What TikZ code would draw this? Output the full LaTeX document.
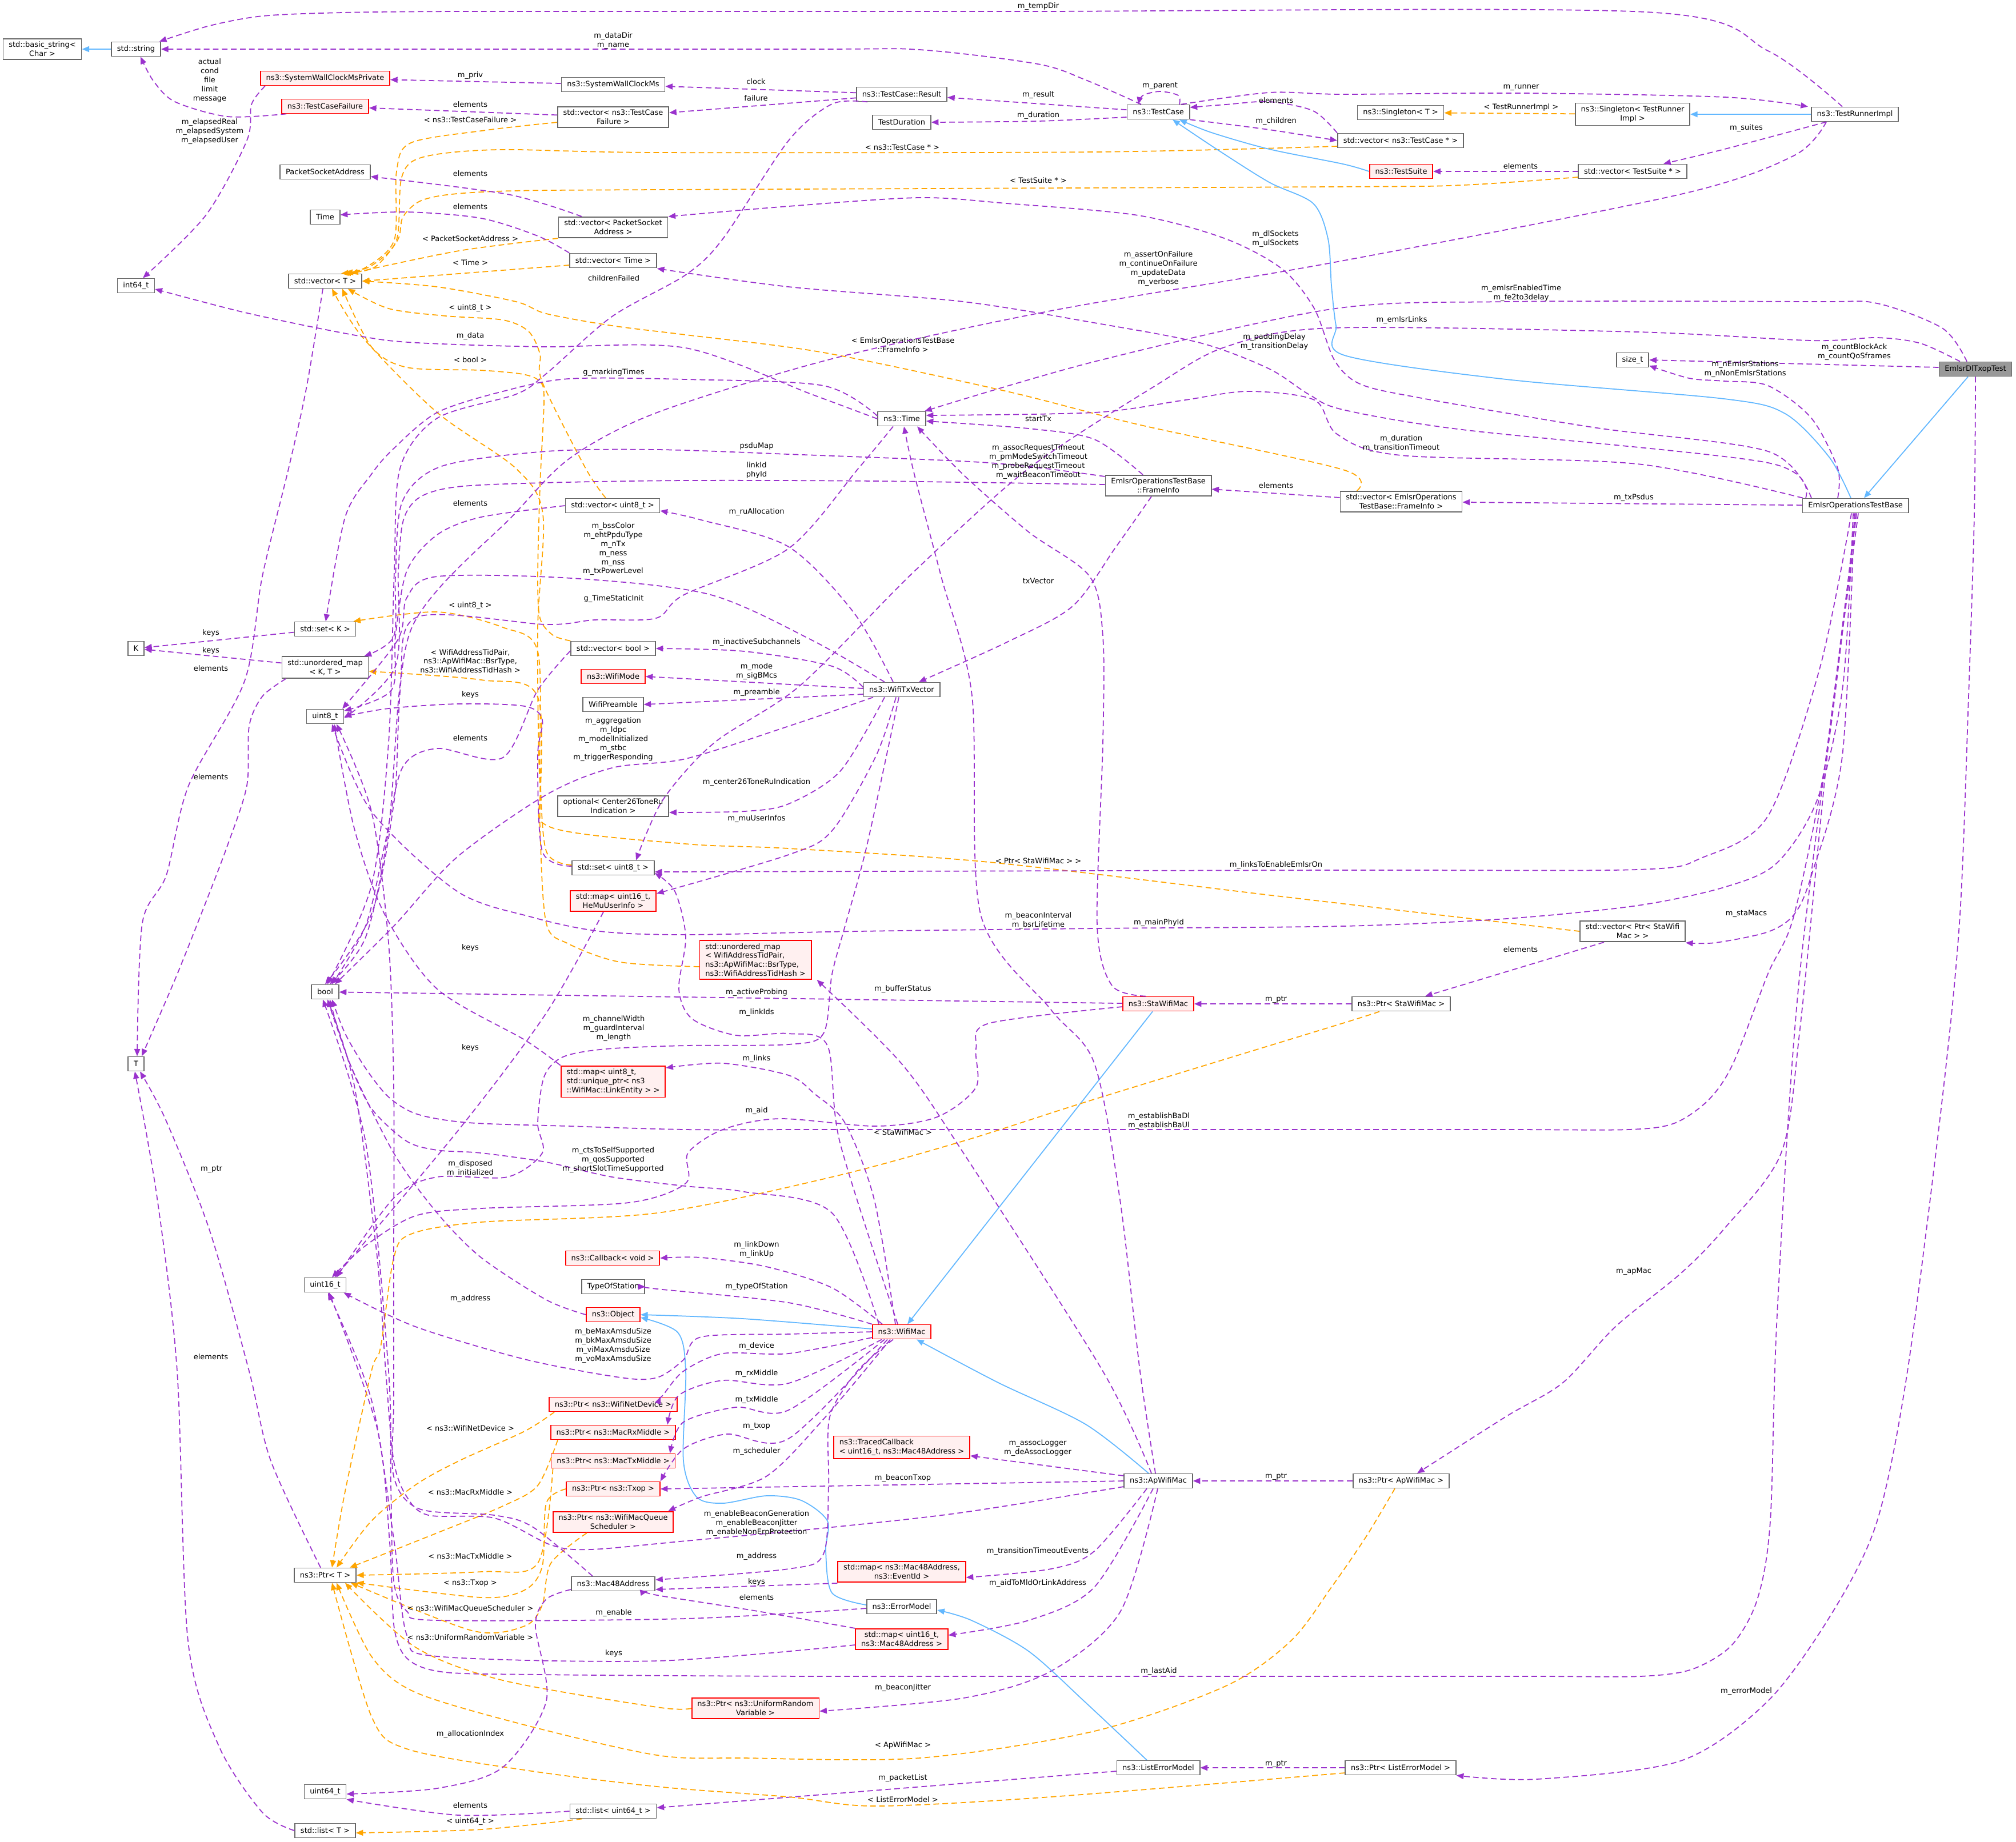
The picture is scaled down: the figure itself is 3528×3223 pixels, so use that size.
\documentclass[tikz,border=0pt]{standalone}
\usepackage{fontspec}
\setmainfont{DejaVu Sans}
\usetikzlibrary{arrows.meta}
\definecolor{dorchid}{RGB}{154,50,205}
\definecolor{dorange}{RGB}{255,165,0}
\definecolor{sblue}{RGB}{99,184,255}
\definecolor{hotfill}{RGB}{255,240,240}
\definecolor{curfill}{RGB}{153,153,153}
\definecolor{bordergray}{RGB}{102,102,102}
\newcommand{\dgfont}{\fontsize{3.7pt}{4.5pt}\selectfont}
\tikzset{
  cls/.style={draw=bordergray, fill=white, line width=0.5pt, font=\dgfont, align=center,
    inner xsep=2.8pt, inner ysep=1.5pt, minimum height=0.25cm},
  hot/.style={cls, draw=red, fill=hotfill},
  cur/.style={cls, fill=curfill},
  lbl/.style={font=\dgfont, align=center, inner sep=0pt, text=black},
  mem/.style={draw=dorchid, line width=0.5pt, dash pattern=on 2.8pt off 1.7pt,
    -{Triangle[length=3.6pt,width=2.9pt]}},
  tpl/.style={mem, draw=dorange},
  inh/.style={draw=sblue, line width=0.5pt, -{Triangle[length=3.6pt,width=2.9pt]}}
}
\begin{document}
\catcode`\_=12
\begin{tikzpicture}[x=0.01cm, y=-0.01cm]
\fill[white] (0,0) rectangle (3528,3223);
\useasboundingbox (0,0) rectangle (3528,3223);

\node[cls] (basicstr) at (74,86) {std::basic_string<\\Char >};
\node[cls] (stdstring) at (238,86) {std::string};
\node[hot] (wallpriv) at (569,137) {ns3::SystemWallClockMsPrivate};
\node[hot] (tcfail) at (569,186) {ns3::TestCaseFailure};
\node[cls] (wallms) at (1073,148) {ns3::SystemWallClockMs};
\node[cls] (vectcfail) at (1073,205) {std::vector< ns3::TestCase\\Failure >};
\node[cls] (psaddr) at (569,301) {PacketSocketAddress};
\node[cls] (timeplain) at (569,380) {Time};
\node[cls] (vecpsa) at (1073,398) {std::vector< PacketSocket\\Address >};
\node[cls] (vectime) at (1073,456) {std::vector< Time >};
\node[cls] (int64) at (238,500) {int64_t};
\node[cls] (vecT) at (569,492) {std::vector< T >};
\node[cls] (result) at (1578,165) {ns3::TestCase::Result};
\node[cls] (testdur) at (1578,214) {TestDuration};
\node[cls] (testcase) at (2027,196) {ns3::TestCase};
\node[cls] (singT) at (2451,197) {ns3::Singleton< T >};
\node[cls] (singTRI) at (2857,200) {ns3::Singleton< TestRunner\\Impl >};
\node[cls] (runner) at (3246,200) {ns3::TestRunnerImpl};
\node[cls] (vectcp) at (2451,246) {std::vector< ns3::TestCase * >};
\node[hot] (suite) at (2452,300) {ns3::TestSuite};
\node[cls] (vecsuite) at (2857,300) {std::vector< TestSuite * >};
\node[cls] (sizet) at (2857,630) {size_t};
\node[cur] (dltxop) at (3457,646) {EmlsrDlTxopTest};
\node[cls] (nstime) at (1578,733) {ns3::Time};
\node[cls] (vecu8) at (1072,885) {std::vector< uint8_t >};
\node[cls] (setK) at (569,1101) {std::set< K >};
\node[cls] (nK) at (238,1135) {K};
\node[cls] (umapKT) at (569,1168) {std::unordered_map\\< K, T >};
\node[cls] (vecbool) at (1073,1135) {std::vector< bool >};
\node[hot] (wifimode) at (1073,1184) {ns3::WifiMode};
\node[cls] (preamble) at (1073,1233) {WifiPreamble};
\node[cls] (uint8) at (569,1254) {uint8_t};
\node[cls] (optional) at (1073,1411) {optional< Center26ToneRu\\Indication >};
\node[cls] (setu8) at (1073,1519) {std::set< uint8_t >};
\node[hot] (mapmu) at (1073,1577) {std::map< uint16_t,\\HeMuUserInfo >};
\node[cls] (frameinfo) at (2027,850) {EmlsrOperationsTestBase\\::FrameInfo};
\node[cls] (txvector) at (1578,1207) {ns3::WifiTxVector};
\node[cls] (vecframe) at (2452,878) {std::vector< EmlsrOperations\\TestBase::FrameInfo >};
\node[cls] (optbase) at (3247,885) {EmlsrOperationsTestBase};
\node[cls] (nbool) at (569,1736) {bool};
\node[cls] (nT) at (238,1862) {T};
\node[hot, align=left] (maplink) at (1073,1893) {std::map< uint8_t,\\ std::unique_ptr< ns3\\::WifiMac::LinkEntity > >};
\node[hot] (callback) at (1072,2202) {ns3::Callback< void >};
\node[cls] (uint16) at (569,2249) {uint16_t};
\node[cls] (typesta) at (1073,2252) {TypeOfStation};
\node[hot] (object) at (1073,2301) {ns3::Object};
\node[hot, align=left] (umapbsr) at (1322,1680) {std::unordered_map\\< WifiAddressTidPair,\\ ns3::ApWifiMac::BsrType,\\ ns3::WifiAddressTidHash >};
\node[hot] (stamac) at (2027,1757) {ns3::StaWifiMac};
\node[hot] (wifimac) at (1578,2331) {ns3::WifiMac};
\node[cls] (vecstaptr) at (2857,1630) {std::vector< Ptr< StaWifi\\Mac > >};
\node[cls] (ptrsta) at (2452,1757) {ns3::Ptr< StaWifiMac >};
\node[hot] (ptrdev) at (1073,2458) {ns3::Ptr< ns3::WifiNetDevice >};
\node[hot] (ptrrx) at (1073,2507) {ns3::Ptr< ns3::MacRxMiddle >};
\node[hot] (ptrtx) at (1073,2557) {ns3::Ptr< ns3::MacTxMiddle >};
\node[hot] (ptrtxop) at (1073,2606) {ns3::Ptr< ns3::Txop >};
\node[hot] (ptrsched) at (1073,2664) {ns3::Ptr< ns3::WifiMacQueue\\Scheduler >};
\node[cls] (ptrT) at (569,2757) {ns3::Ptr< T >};
\node[cls] (mac48) at (1073,2772) {ns3::Mac48Address};
\node[cls] (uint64) at (569,3136) {uint64_t};
\node[cls] (listu64) at (1073,3170) {std::list< uint64_t >};
\node[cls] (listT) at (569,3204) {std::list< T >};
\node[hot, align=left] (traced) at (1578,2533) {ns3::TracedCallback\\< uint16_t, ns3::Mac48Address >};
\node[cls] (apmac) at (2027,2592) {ns3::ApWifiMac};
\node[hot] (mapevent) at (1578,2751) {std::map< ns3::Mac48Address,\\ns3::EventId >};
\node[cls] (errmodel) at (1578,2812) {ns3::ErrorModel};
\node[hot] (mapaid) at (1578,2869) {std::map< uint16_t,\\ns3::Mac48Address >};
\node[hot] (ptrrand) at (1322,2990) {ns3::Ptr< ns3::UniformRandom\\Variable >};
\node[cls] (listerr) at (2027,3094) {ns3::ListErrorModel};
\node[cls] (ptrap) at (2452,2592) {ns3::Ptr< ApWifiMac >};
\node[cls] (ptrlisterr) at (2451,3094) {ns3::Ptr< ListErrorModel >};

\draw[inh] (stdstring) -- (basicstr);
\draw[mem] plot[smooth] coordinates {([xshift=-0.22cm]runner.north) (3094,89) (2880,21) (1800,20) (1200,20) (800,20) (600,22) (460,28) (367,45) ([xshift=-0.03cm]stdstring.north east)} node[lbl] at (1817,11) {m_tempDir};
\draw[mem] plot[smooth] coordinates {([xshift=-0.3cm]testcase.north) (1900,140) (1816,112) (1609,87) (1400,86) (stdstring.east)} node[lbl] at (1073,71) {m_dataDir\\m_name};
\draw[mem] plot[smooth] coordinates {([xshift=0.09cm]tcfail.south west) (398,204) (306,178) (268,141) ([xshift=0.08cm]stdstring.south)} node[lbl] at (367,141) {actual\\cond\\file\\limit\\message};
\draw[mem] plot[smooth] coordinates {([xshift=0.09cm]wallpriv.south west) (440,183) (432,246) (360,377) ([xshift=0.12cm]int64.north)} node[lbl] at (367,230) {m_elapsedReal\\m_elapsedSystem\\m_elapsedUser};
\draw[mem] (wallms) -- (wallpriv) node[lbl] at (823,132) {m_priv};
\draw[mem] (result) -- (wallms) node[lbl] at (1323,143) {clock};
\draw[mem] (result) -- (vectcfail) node[lbl] at (1323,172) {failure};
\draw[mem] (vectcfail) -- (tcfail) node[lbl] at (823,183) {elements};
\draw[tpl] plot[smooth] coordinates {([yshift=-0.09cm]vectcfail.west) (850,228) (719,250) (694,300) (690,420) (640,468) ([xshift=0.28cm]vecT.north)} node[lbl] at (823,210) {< ns3::TestCaseFailure >};
\draw[tpl] plot[smooth] coordinates {([yshift=-0.1cm]vectcp.west) (1915,266) (1150,267) (872,262) (740,275) (703,310) (694,420) (650,465) ([xshift=0.36cm]vecT.north)} node[lbl] at (1579,258) {< ns3::TestCase * >};
\draw[tpl] plot[smooth] coordinates {([yshift=-0.1cm]vecsuite.west) (2559,324) (2330,327) (1150,332) (900,334) (790,340) (735,352) (705,380) (696,420) (655,468) ([xshift=0.32cm]vecT.north)} node[lbl] at (1817,316) {< TestSuite * >};
\draw[mem] plot[smooth] coordinates {([xshift=-0.55cm]vecpsa.north) (888,340) ([yshift=-0.08cm]psaddr.east)} node[lbl] at (823,304) {elements};
\draw[tpl] plot[smooth] coordinates {(vecpsa.south west) (803,439) ([xshift=-0.2cm]vecT.north east)} node[lbl] at (823,418) {< PacketSocketAddress >};
\draw[mem] plot[smooth] coordinates {(vectime.north west) (941,413) (842,382) (712,371) ([yshift=0.04cm]timeplain.east)} node[lbl] at (823,362) {elements};
\draw[tpl] ([yshift=-0.08cm]vectime.west) -- (vecT.east) node[lbl] at (823,460) {< Time >};
\draw[tpl] plot[smooth] coordinates {([xshift=-0.12cm]vecu8.north) (1025,820) (949,669) (945,620) (925,580) (880,560) (780,553) (680,540) ([xshift=-0.25cm]vecT.south east)} node[lbl] at (823,539) {< uint8_t >};
\draw[tpl] plot[smooth] coordinates {(vecbool.north west) (968,1112) (945,1082) (941,1009) (945,850) (952,700) (945,668) (915,655) (840,648) (712,643) (650,607) ([xshift=0.3cm]vecT.south)} node[lbl] at (823,630) {< bool >};
\draw[tpl] plot[smooth] coordinates {([xshift=0.3cm]vecframe.north west) (2350,822) (1992,743) (1762,685) (1441,617) (1200,586) (1071,570) (956,549) (903,528) (765,502) (vecT.east)} node[lbl] at (1580,604) {< EmlsrOperationsTestBase\\::FrameInfo >};
\draw[tpl] plot[smooth] coordinates {(vecstaptr.west) (2250,1570) (1731,1509) (1380,1485) (1200,1477) (964,1448) (945,1375) (941,1100) (950,900) (903,820) (765,722) (635,591) ([xshift=0.12cm]vecT.south)} node[lbl] at (1817,1507) {< Ptr< StaWifiMac > >};
\draw[mem] plot[smooth] coordinates {([xshift=-0.04cm]vecT.south) (536,680) (505,820) (459,1009) (428,1192) (330,1375) (291,1532) (249,1616) ([xshift=0.02cm]nT.north)} node[lbl] at (369,1170) {elements};
\draw[mem] (setK) -- (nK) node[lbl] at (369,1108) {keys};
\draw[mem] (umapKT) -- (nK) node[lbl] at (369,1139) {keys};
\draw[mem] plot[smooth] coordinates {([xshift=0.08cm]umapKT.south west) (459,1219) (436,1271) (432,1375) (398,1480) (352,1600) (306,1715) ([xshift=0.1cm]nT.north)} node[lbl] at (369,1360) {elements};
\draw[mem] plot[smooth] coordinates {([xshift=-0.08cm]ptrT.north) (474,2557) (436,2400) (367,2154) (290,1960) ([xshift=0.07cm]nT.south)} node[lbl] at (370,2046) {m_ptr};
\draw[mem] plot[smooth] coordinates {(listT.west) (459,3172) (383,3056) (329,2872) (310,2400) (275,2097) ([xshift=-0.02cm]nT.south)} node[lbl] at (369,2375) {elements};
\draw[tpl] plot[smooth] coordinates {([yshift=0.05cm]setu8.west) (956,1490) (945,1350) (941,1140) (880,1098) (765,1071) ([xshift=-0.05cm]setK.north east)} node[lbl] at (823,1060) {< uint8_t >};
\draw[tpl] plot[smooth] coordinates {([yshift=-0.12cm]umapbsr.west) (1086,1684) (995,1652) (956,1616) (945,1450) (941,1220) (842,1190) ([yshift=-0.07cm]umapKT.east)} node[lbl] at (823,1157) {< WifiAddressTidPair,\\ns3::ApWifiMac::BsrType,\\ns3::WifiAddressTidHash >};
\draw[mem] plot[smooth] coordinates {(vecu8.west) (842,905) (765,936) (712,999) (692,1114) (685,1208) ([yshift=0.1cm]uint8.east)} node[lbl] at (823,881) {elements};
\draw[mem] plot[smooth] coordinates {([yshift=0.03cm]setu8.west) (949,1490) (941,1323) (949,1260) (918,1236) (803,1232) (680,1240) (uint8.east)} node[lbl] at (823,1216) {keys};
\draw[mem] plot[smooth] coordinates {([yshift=-0.04cm]vecbool.west) (941,1208) (880,1326) (765,1310) (704,1344) (673,1480) (640,1620) ([xshift=0.12cm]nbool.north)} node[lbl] at (823,1292) {elements};
\draw[mem] plot[smooth] coordinates {(maplink.north west) (918,1820) (765,1731) (673,1600) (620,1450) ([xshift=0.16cm]uint8.south)} node[lbl] at (823,1659) {keys};
\draw[mem] plot[smooth] coordinates {([xshift=-0.17cm]mapmu.south) (956,1773) (803,1977) ([xshift=0.17cm]uint16.north)} node[lbl] at (823,1834) {keys};
\draw[mem] plot[smooth] coordinates {(nstime.west) (1420,690) (1200,609) (956,607) (800,603) (680,596) (560,575) (420,545) ([yshift=-0.06cm]int64.east)} node[lbl] at (823,588) {m_data};
\draw[mem] plot[smooth] coordinates {([yshift=0.05cm]nstime.west) (1441,675) (1200,664) (995,663) (880,685) (765,722) (689,785) (650,830) (604,905) ([xshift=0.01cm]setK.north)} node[lbl] at (1074,652) {g_markingTimes};
\draw[mem] plot[smooth] coordinates {([xshift=-0.15cm]nstime.south) (1502,820) (1380,960) (1197,1041) (1148,1082) (1040,1085) (956,1093) (730,1080) (700,1200) (680,1450) (640,1640) ([xshift=0.08cm]nbool.north)} node[lbl] at (1074,1048) {g_TimeStaticInit};
\draw[mem] plot[smooth] coordinates {([xshift=-0.6cm]result.south) (1456,182) (1380,246) (1265,418) (1200,481) (1071,554) (956,654) (903,690) (765,732) (700,820) (690,1000) (680,1300) (650,1550) ([xshift=0.04cm]nbool.north)} node[lbl] at (1074,487) {childrenFailed};
\draw[mem] plot[smooth] coordinates {([xshift=-0.5cm]runner.south) (3140,272) (2941,340) (2330,460) (1839,544) (1456,628) (1150,722) (1000,800) (900,900) (720,1100) (690,1400) (650,1600) (nbool.north)} node[lbl] at (2027,470) {m_assertOnFailure\\m_continueOnFailure\\m_updateData\\m_verbose};
\draw[mem] plot[smooth] coordinates {([xshift=-0.15cm]dltxop.north) (3400,575) (3285,531) (3170,528) (2636,528) (2330,541) (1915,633) ([xshift=0.4cm]nstime.north)} node[lbl] at (2662,513) {m_emlsrEnabledTime\\m_fe2to3delay};
\draw[mem] plot[smooth] coordinates {([xshift=-0.27cm]dltxop.north) (3361,601) (3285,591) (3170,596) (2865,581) (2330,574) (2145,607) (2022,675) (1800,820) (1600,1000) (1400,1200) (1250,1300) (1160,1400) ([xshift=0.4cm]setu8.north)} node[lbl] at (2453,560) {m_emlsrLinks};
\draw[mem] ([yshift=0.03cm]dltxop.west) -- (sizet.east) node[lbl] at (3245,616) {m_countBlockAck\\m_countQoSframes};
\draw[mem] plot[smooth] coordinates {(dltxop.south) (3455,900) (3445,1218) (3430,1600) (3400,1914) (3338,2400) (3285,2662) (3208,2820) (3094,2977) (2941,3082) (2689,3114) (ptrlisterr.south east)} node[lbl] at (3056,2960) {m_errorModel};
\draw[inh] ([xshift=-0.13cm]dltxop.south) -- ([xshift=0.15cm]optbase.north);
\draw[inh] plot[smooth] coordinates {([xshift=-0.08cm]optbase.north) (3201,800) (3124,724) (3017,698) (2636,664) (2353,622) (2338,570) (2330,500) (2324,418) (2298,356) (2221,319) (2129,261) ([xshift=0.25cm]testcase.south)};
\draw[inh] plot[smooth] coordinates {(suite.west) (2350,287) (2221,261) (2120,232) ([xshift=0.37cm]testcase.south)};
\draw[mem] plot[smooth] coordinates {([xshift=-0.31cm]optbase.north) (3216,820) (3170,732) (3094,675) (3017,667) (2956,662) ([yshift=-0.1cm]sizet.east)} node[lbl] at (3054,646) {m_nEmlsrStations\\m_nNonEmlsrStations};
\draw[mem] (optbase) -- (vecframe) node[lbl] at (2859,871) {m_txPsdus};
\draw[mem] plot[smooth] coordinates {([xshift=-0.77cm]optbase.north) (3094,790) (2788,748) (2483,696) (2380,672) (2335,630) (2300,540) (2244,471) (2145,418) (1992,377) (1762,356) (1609,346) (1380,361) ([yshift=0.19cm]vecpsa.east)} node[lbl] at (2232,418) {m_dlSockets\\m_ulSockets};
\draw[mem] plot[smooth] coordinates {([xshift=-0.87cm]optbase.north) (3094,810) (2559,752) (2350,717) (2290,690) (2220,645) (2100,600) (1915,565) (1686,528) (1380,502) ([yshift=-0.14cm]vectime.east)} node[lbl] at (2230,598) {m_paddingDelay\\m_transitionDelay};
\draw[mem] plot[smooth] coordinates {([xshift=-0.92cm]optbase.north) (2865,812) (2452,797) (2340,760) (2300,700) (2183,685) (2068,701) (1915,722) ([yshift=0.06cm]nstime.east)} node[lbl] at (2452,776) {m_duration\\m_transitionTimeout};
\draw[mem] plot[smooth] coordinates {([xshift=-0.04cm]optbase.south) (3225,1200) (3180,1400) (3109,1511) (3017,1553) (2865,1585) (2636,1608) (2350,1621) (1915,1625) (1500,1630) (1200,1636) (1050,1630) (930,1605) (800,1560) (650,1420) ([xshift=0.12cm]uint8.south)} node[lbl] at (2028,1615) {m_mainPhyId};
\draw[mem] plot[smooth] coordinates {([xshift=-0.07cm]optbase.south) (3185,1168) (3094,1428) (2979,1501) (2865,1522) (2330,1523) ([yshift=-0.07cm]setu8.east)} node[lbl] at (2233,1514) {m_linksToEnableEmlsrOn};
\draw[mem] plot[smooth] coordinates {([xshift=-0.02cm]optbase.south) (3224,1323) (3170,1532) (3140,1600) (3094,1631) (3002,1650) ([yshift=-0.2cm]vecstaptr.east)} node[lbl] at (3056,1599) {m_staMacs};
\draw[mem] plot[smooth] coordinates {(optbase.south) (3200,1300) (3140,1600) (3094,1704) (3033,1861) (2990,1925) (2930,1966) (2850,1977) (2650,1977) (2400,1977) (2150,1977) (1900,1977) (1650,1977) (1400,1977) (1200,1977) (995,1971) (820,1965) (730,1950) (680,1920) (640,1870) (604,1809) ([xshift=0.12cm]nbool.south)} node[lbl] at (2028,1962) {m_establishBaDl\\m_establishBaUl};
\draw[mem] plot[smooth] coordinates {([xshift=0.02cm]optbase.south) (3200,1300) (3150,1800) (3117,2018) (3017,2151) (2941,2229) (2827,2322) (2735,2420) (2636,2479) ([xshift=0.28cm]ptrap.north)} node[lbl] at (2859,2225) {m_apMac};
\draw[mem] plot[smooth] coordinates {([xshift=0.05cm]optbase.south) (3150,1700) (3110,2300) (3098,2662) (3075,2800) (3030,2880) (2960,2922) (2870,2934) (2700,2934) (2450,2934) (2200,2934) (1950,2934) (1700,2934) (1450,2934) (1200,2933) (950,2931) (780,2927) (715,2905) (690,2850) (682,2700) (660,2500) ([xshift=0.07cm]uint16.south)} node[lbl] at (2028,2925) {m_lastAid};
\draw[inh] (runner) -- (singTRI);
\draw[mem] plot[smooth] coordinates {([xshift=-0.5cm]runner.south) (3018,261) ([xshift=0.54cm]vecsuite.north)} node[lbl] at (3056,224) {m_suites};
\draw[mem] plot[smooth] coordinates {([xshift=0.4cm]testcase.north) (2221,162) (2350,165) (2662,163) (3018,170) ([xshift=-0.05cm]runner.north west)} node[lbl] at (2662,153) {m_runner};
\draw[tpl] (singTRI) -- (singT) node[lbl] at (2662,188) {< TestRunnerImpl >};
\draw[mem] plot[smooth] coordinates {([xshift=0.37cm]testcase.north) (2062,167) (2030,160) (2000,167) ([xshift=-0.35cm]testcase.north)} node[lbl] at (2030,150) {m_parent};
\draw[mem] (testcase) -- (result) node[lbl] at (1817,166) {m_result};
\draw[mem] plot[smooth] coordinates {([yshift=-0.09cm]testcase.west) (1817,212) (testdur.east)} node[lbl] at (1817,202) {m_duration};
\draw[mem] plot[smooth] coordinates {(testcase.south east) (2221,227) (vectcp.west)} node[lbl] at (2233,212) {m_children};
\draw[mem] plot[smooth] coordinates {(vectcp.north west) (2298,194) (2221,178) (2145,183) ([yshift=0.08cm]testcase.east)} node[lbl] at (2233,176) {elements};
\draw[mem] (vecsuite) -- (suite) node[lbl] at (2661,291) {elements};
\draw[mem] (vecframe) -- (frameinfo) node[lbl] at (2233,850) {elements};
\draw[mem] plot[smooth] coordinates {([xshift=-0.27cm]frameinfo.north) (1915,769) (1800,750) ([yshift=-0.04cm]nstime.east)} node[lbl] at (1817,733) {startTx};
\draw[mem] plot[smooth] coordinates {([xshift=-0.12cm]frameinfo.south) (1953,957) (1877,1061) (1762,1124) ([xshift=0.3cm]txvector.north)} node[lbl] at (1817,1017) {txVector};
\draw[mem] plot[smooth] coordinates {([yshift=0.02cm]frameinfo.west) (1533,842) (1200,841) (950,845) (800,852) (735,870) (706,910) (697,1000) (692,1166) ([yshift=-0.03cm]uint8.east)} node[lbl] at (1324,823) {linkId\\phyId};
\draw[mem] plot[smooth] coordinates {([yshift=0.16cm]frameinfo.west) (1731,810) (1380,795) (1150,787) (956,790) (773,816) (704,878) (692,1009) (689,1114) ([xshift=-0.08cm]umapKT.north east)} node[lbl] at (1324,781) {psduMap};
\draw[mem] plot[smooth] coordinates {([xshift=-0.15cm]txvector.north) (1494,1072) (1380,957) (1227,910) ([yshift=-0.09cm]vecu8.east)} node[lbl] at (1324,896) {m_ruAllocation};
\draw[mem] plot[smooth] coordinates {([xshift=-0.3cm]txvector.north) (1420,1120) (1240,1040) (1000,1012) (765,1009) (712,1046) (696,1120) ([xshift=0.3cm]uint8.north)} node[lbl] at (1073,961) {m_bssColor\\m_ehtPpduType\\m_nTx\\m_ness\\m_nss\\m_txPowerLevel};
\draw[mem] plot[smooth] coordinates {([yshift=0.04cm]txvector.west) (1456,1166) (1303,1140) (vecbool.east)} node[lbl] at (1324,1124) {m_inactiveSubchannels};
\draw[mem] ([yshift=0.02cm]txvector.west) -- (wifimode.east) node[lbl] at (1324,1175) {m_mode\\m_sigBMcs};
\draw[mem] ([yshift=-0.08cm]txvector.west) -- (preamble.east) node[lbl] at (1324,1212) {m_preamble};
\draw[mem] plot[smooth] coordinates {([xshift=-0.5cm]txvector.south) (1380,1271) (1200,1328) (1071,1344) (956,1391) (800,1500) (690,1620) ([xshift=0.17cm]nbool.north)} node[lbl] at (1073,1294) {m_aggregation\\m_ldpc\\m_modelInitialized\\m_stbc\\m_triggerResponding};
\draw[mem] plot[smooth] coordinates {([xshift=-0.3cm]txvector.south) (1471,1349) (1380,1407) (1303,1420) ([yshift=-0.11cm]optional.east)} node[lbl] at (1324,1369) {m_center26ToneRuIndication};
\draw[mem] plot[smooth] coordinates {([xshift=-0.1cm]txvector.south) (1533,1323) (1456,1454) (1380,1496) ([yshift=0.13cm]mapmu.east)} node[lbl] at (1324,1433) {m_muUserInfos};
\draw[mem] plot[smooth] coordinates {([xshift=-0.05cm]txvector.south) (1517,1480) (1479,1620) (1456,1705) (1441,1809) (1380,1828) (1200,1830) (1060,1836) (985,1850) (952,1885) (941,1966) (949,2018) (888,2060) (765,2060) (689,2097) ([xshift=0.2cm]uint16.north)} node[lbl] at (1074,1800) {m_channelWidth\\m_guardInterval\\m_length};
\draw[inh] ([xshift=-0.1cm]stamac.south) -- ([xshift=0.1cm]wifimac.north);
\draw[mem] plot[smooth] coordinates {([xshift=-0.22cm]stamac.north) (1946,1725) (1920,1620) (1930,1300) (1930,1114) (1907,1009) (1800,931) (1686,831) ([xshift=0.27cm]nstime.south)} node[lbl] at (1817,808) {m_assocRequestTimeout\\m_pmModeSwitchTimeout\\m_probeRequestTimeout\\m_waitBeaconTimeout};
\draw[mem] (stamac) -- (nbool) node[lbl] at (1324,1737) {m_activeProbing};
\draw[mem] plot[smooth] coordinates {([yshift=-0.05cm]stamac.west) (1731,1791) (1708,1835) (1708,1903) (1640,1955) (1533,1971) (1364,1958) (1265,1977) (1204,2018) (1200,2071) (1100,2105) (842,2115) (727,2128) (640,2180) ([xshift=0.12cm]uint16.north)} node[lbl] at (1324,1944) {m_aid};
\draw[mem] (ptrsta) -- (stamac) node[lbl] at (2233,1749) {m_ptr};
\draw[tpl] plot[smooth] coordinates {([xshift=-0.38cm]ptrsta.south) (2343,1793) (1915,1924) (1686,1997) (1456,2060) (1150,2123) (842,2139) (719,2160) (689,2202) (666,2358) (650,2400) (604,2610) ([xshift=0.12cm]ptrT.north)} node[lbl] at (1580,1982) {< StaWifiMac >};
\draw[mem] ([xshift=-0.5cm]vecstaptr.south) -- ([xshift=0.42cm]ptrsta.north) node[lbl] at (2661,1662) {elements};
\draw[inh] plot[smooth] coordinates {([yshift=0.05cm]wifimac.west) (1300,2308) (object.east)};
\draw[inh] plot[smooth] coordinates {([yshift=0.03cm]errmodel.west) (1456,2788) (1445,2715) (1448,2662) (1402,2626) (1341,2618) (1265,2631) (1219,2620) (1196,2557) (1200,2400) (1186,2332) ([yshift=-0.05cm]object.east)};
\draw[mem] plot[smooth] coordinates {([xshift=-0.11cm]wifimac.north) (1530,2100) (1479,1966) (1425,1914) (1380,1882) (1265,1861) ([yshift=0.24cm]maplink.east)} node[lbl] at (1324,1853) {m_links};
\draw[mem] plot[smooth] coordinates {([xshift=-0.07cm]wifimac.north) (1470,2000) (1448,1830) (1380,1809) (1288,1812) (1211,1783) (1188,1731) (1200,1640) (1181,1560) ([yshift=-0.09cm]setu8.east)} node[lbl] at (1324,1772) {m_linkIds};
\draw[mem] plot[smooth] coordinates {([xshift=-0.34cm]wifimac.north) (1456,2254) (1341,2217) (1227,2201) (callback.east)} node[lbl] at (1324,2187) {m_linkDown\\m_linkUp};
\draw[mem] plot[smooth] coordinates {(wifimac.north west) (1380,2280) (1150,2256) (typesta.east)} node[lbl] at (1324,2252) {m_typeOfStation};
\draw[mem] plot[smooth] coordinates {(wifimac.west) (1380,2335) (1227,2340) (1196,2380) (1150,2411) (1086,2411) (918,2379) (727,2322) ([xshift=-0.05cm]uint16.south east)} node[lbl] at (1073,2355) {m_beMaxAmsduSize\\m_bkMaxAmsduSize\\m_viMaxAmsduSize\\m_voMaxAmsduSize};
\draw[mem] plot[smooth] coordinates {([yshift=-0.1cm]wifimac.west) (1380,2369) (1265,2369) (1196,2400) (1160,2442) ([xshift=-0.3cm]ptrdev.north east)} node[lbl] at (1324,2356) {m_device};
\draw[mem] plot[smooth] coordinates {([xshift=-0.35cm]wifimac.south) (1380,2421) (1265,2416) (1188,2442) ([xshift=-0.15cm]ptrrx.north east)} node[lbl] at (1324,2404) {m_rxMiddle};
\draw[mem] plot[smooth] coordinates {([xshift=-0.3cm]wifimac.south) (1380,2468) (1288,2463) (1196,2489) ([xshift=-0.1cm]ptrtx.north east)} node[lbl] at (1324,2450) {m_txMiddle};
\draw[mem] plot[smooth] coordinates {([xshift=-0.25cm]wifimac.south) (1380,2518) (1272,2510) (1196,2536) (ptrtxop.north east)} node[lbl] at (1324,2496) {m_txop};
\draw[mem] plot[smooth] coordinates {([xshift=-0.2cm]wifimac.south) (1441,2484) (1341,2584) (1227,2620) ([xshift=-0.1cm]ptrsched.north east)} node[lbl] at (1324,2540) {m_scheduler};
\draw[mem] plot[smooth] coordinates {([xshift=-0.15cm]wifimac.south) (1500,2400) (1452,2480) (1450,2600) (1441,2720) (1380,2746) ([yshift=0.07cm]mac48.east)} node[lbl] at (1324,2724) {m_address};
\draw[mem] plot[smooth] coordinates {([xshift=-0.4cm]wifimac.north) (1456,2123) (1303,2086) (1200,2076) (1071,2060) (956,2034) (842,2018) (765,2013) (711,1997) (650,1940) (612,1861) ([xshift=0.04cm]nbool.south)} node[lbl] at (1073,2030) {m_ctsToSelfSupported\\m_qosSupported\\m_shortSlotTimeSupported};
\draw[inh] plot[smooth] coordinates {([xshift=-0.17cm]apmac.north) (1900,2493) (1747,2420) ([xshift=0.26cm]wifimac.south)};
\draw[mem] ([yshift=0.09cm]apmac.west) -- ([yshift=-0.15cm]traced.east) node[lbl] at (1816,2534) {m_assocLogger\\m_deAssocLogger};
\draw[mem] (apmac.west) -- (ptrtxop.east) node[lbl] at (1580,2587) {m_beaconTxop};
\draw[mem] plot[smooth] coordinates {([yshift=-0.1cm]apmac.west) (1686,2647) (1456,2673) (1200,2697) (1033,2712) (964,2704) (865,2657) (750,2652) (712,2620) (689,2557) (675,2400) (660,2200) (620,1900) ([xshift=0.04cm]nbool.south)} node[lbl] at (1324,2666) {m_enableBeaconGeneration\\m_enableBeaconJitter\\m_enableNonErpProtection};
\draw[mem] plot[smooth] coordinates {([xshift=-0.2cm]apmac.south) (1915,2715) (1839,2746) ([yshift=-0.1cm]mapevent.east)} node[lbl] at (1816,2715) {m_transitionTimeoutEvents};
\draw[mem] plot[smooth] coordinates {([xshift=-0.09cm]apmac.south) (1915,2778) (1800,2836) ([yshift=0.07cm]mapaid.east)} node[lbl] at (1816,2771) {m_aidToMldOrLinkAddress};
\draw[mem] plot[smooth] coordinates {([xshift=-0.01cm]apmac.south) (1961,2820) (1839,2925) (1686,2972) ([yshift=-0.05cm]ptrrand.east)} node[lbl] at (1580,2954) {m_beaconJitter};
\draw[mem] plot[smooth] coordinates {([xshift=-0.12cm]apmac.north) (1930,2400) (1686,2018) (1578,1862) ([xshift=0.09cm]umapbsr.south east)} node[lbl] at (1580,1731) {m_bufferStatus};
\draw[mem] plot[smooth] coordinates {([xshift=-0.05cm]apmac.north) (1995,2400) (1960,2100) (1915,1861) (1839,1767) (1716,1600) (1701,1218) (1647,1009) (1600,830) ([xshift=0.04cm]nstime.south)} node[lbl] at (1817,1611) {m_beaconInterval\\m_bsrLifetime};
\draw[mem] (ptrap) -- (apmac) node[lbl] at (2233,2584) {m_ptr};
\draw[tpl] plot[smooth] coordinates {([xshift=-0.11cm]ptrap.south) (2391,2689) (2330,2778) (2259,2872) (2145,2951) (1915,3030) (1609,3077) (1303,3077) (1150,3072) (918,3019) (727,2962) (650,2899) ([xshift=0.2cm]ptrT.south)} node[lbl] at (1580,3055) {< ApWifiMac >};
\draw[inh] plot[smooth] coordinates {([xshift=-0.2cm]listerr.north) (1900,2980) (1800,2890) (1700,2836) ([yshift=-0.06cm]errmodel.east)};
\draw[mem] ([yshift=-0.06cm]listerr.west) -- ([yshift=0.06cm]listu64.east) node[lbl] at (1580,3112) {m_packetList};
\draw[mem] (ptrlisterr) -- (listerr) node[lbl] at (2233,3087) {m_ptr};
\draw[tpl] plot[smooth] coordinates {([yshift=-0.09cm]ptrlisterr.west) (1839,3145) (1532,3161) (1380,3145) (1150,3127) (918,3098) (712,3061) (650,3004) ([xshift=0.12cm]ptrT.south)} node[lbl] at (1580,3150) {< ListErrorModel >};
\draw[mem] plot[smooth] coordinates {([yshift=-0.03cm]errmodel.west) (1200,2833) (765,2836) (712,2820) (689,2767) (684,2600) (680,2400) (640,2000) ([xshift=-0.04cm]nbool.south)} node[lbl] at (1074,2823) {m_enable};
\draw[mem] plot[smooth] coordinates {(object.west) (956,2275) (842,2201) (765,2123) (689,2018) (612,1861) ([xshift=0.08cm]nbool.south)} node[lbl] at (823,2045) {m_disposed\\m_initialized};
\draw[tpl] plot[smooth] coordinates {([xshift=0.1cm]ptrdev.south west) (918,2505) (803,2557) (727,2599) (650,2662) ([xshift=0.2cm]ptrT.north)} node[lbl] at (823,2500) {< ns3::WifiNetDevice >};
\draw[tpl] plot[smooth] coordinates {([xshift=0.13cm]ptrrx.south west) (941,2600) (880,2636) (765,2683) ([xshift=0.43cm]ptrT.north)} node[lbl] at (823,2612) {< ns3::MacRxMiddle >};
\draw[tpl] plot[smooth] coordinates {([xshift=0.04cm]ptrtx.south west) (941,2736) (842,2751) (ptrT.east)} node[lbl] at (823,2724) {< ns3::MacTxMiddle >};
\draw[tpl] plot[smooth] coordinates {(ptrtxop.west) (956,2631) (949,2741) (918,2783) (842,2796) ([yshift=-0.13cm]ptrT.east)} node[lbl] at (823,2771) {< ns3::Txop >};
\draw[tpl] plot[smooth] coordinates {([xshift=0.6cm]ptrsched.south west) (964,2736) (949,2809) (918,2846) (826,2854) ([xshift=-0.1cm]ptrT.south east)} node[lbl] at (823,2815) {< ns3::WifiMacQueueScheduler >};
\draw[tpl] plot[smooth] coordinates {(ptrrand.west) (1150,2988) (880,2941) (727,2883) ([xshift=-0.2cm]ptrT.south east)} node[lbl] at (823,2866) {< ns3::UniformRandomVariable >};
\draw[mem] plot[smooth] coordinates {([yshift=-0.1cm]mac48.west) (956,2799) (937,2846) (956,2977) (880,3093) (765,3130) ([yshift=-0.04cm]uint64.east)} node[lbl] at (823,3035) {m_allocationIndex};
\draw[mem] plot[smooth] coordinates {([xshift=-0.36cm]mac48.north) (933,2673) (865,2652) (734,2641) (689,2584) (689,2450) (689,2200) (689,1900) (680,1650) (650,1420) ([xshift=0.2cm]uint8.south)} node[lbl] at (823,2273) {m_address};
\draw[mem] ([yshift=-0.2cm]mapevent.west) -- ([yshift=-0.1cm]mac48.east) node[lbl] at (1324,2769) {keys};
\draw[mem] plot[smooth] coordinates {(mapaid.north west) (1326,2820) (1150,2792) ([xshift=-0.14cm]mac48.south east)} node[lbl] at (1324,2796) {elements};
\draw[mem] plot[smooth] coordinates {([yshift=-0.1cm]mapaid.west) (1150,2907) (765,2899) (712,2862) (690,2700) (650,2450) ([xshift=0.05cm]uint16.south)} node[lbl] at (1074,2894) {keys};
\draw[mem] plot[smooth] coordinates {(listu64.west) (803,3177) (uint64.south east)} node[lbl] at (823,3160) {elements};
\draw[tpl] plot[smooth] coordinates {([xshift=0.22cm]listu64.south west) (842,3202) ([yshift=-0.04cm]listT.east)} node[lbl] at (823,3188) {< uint64_t >};
\end{tikzpicture}
\end{document}
